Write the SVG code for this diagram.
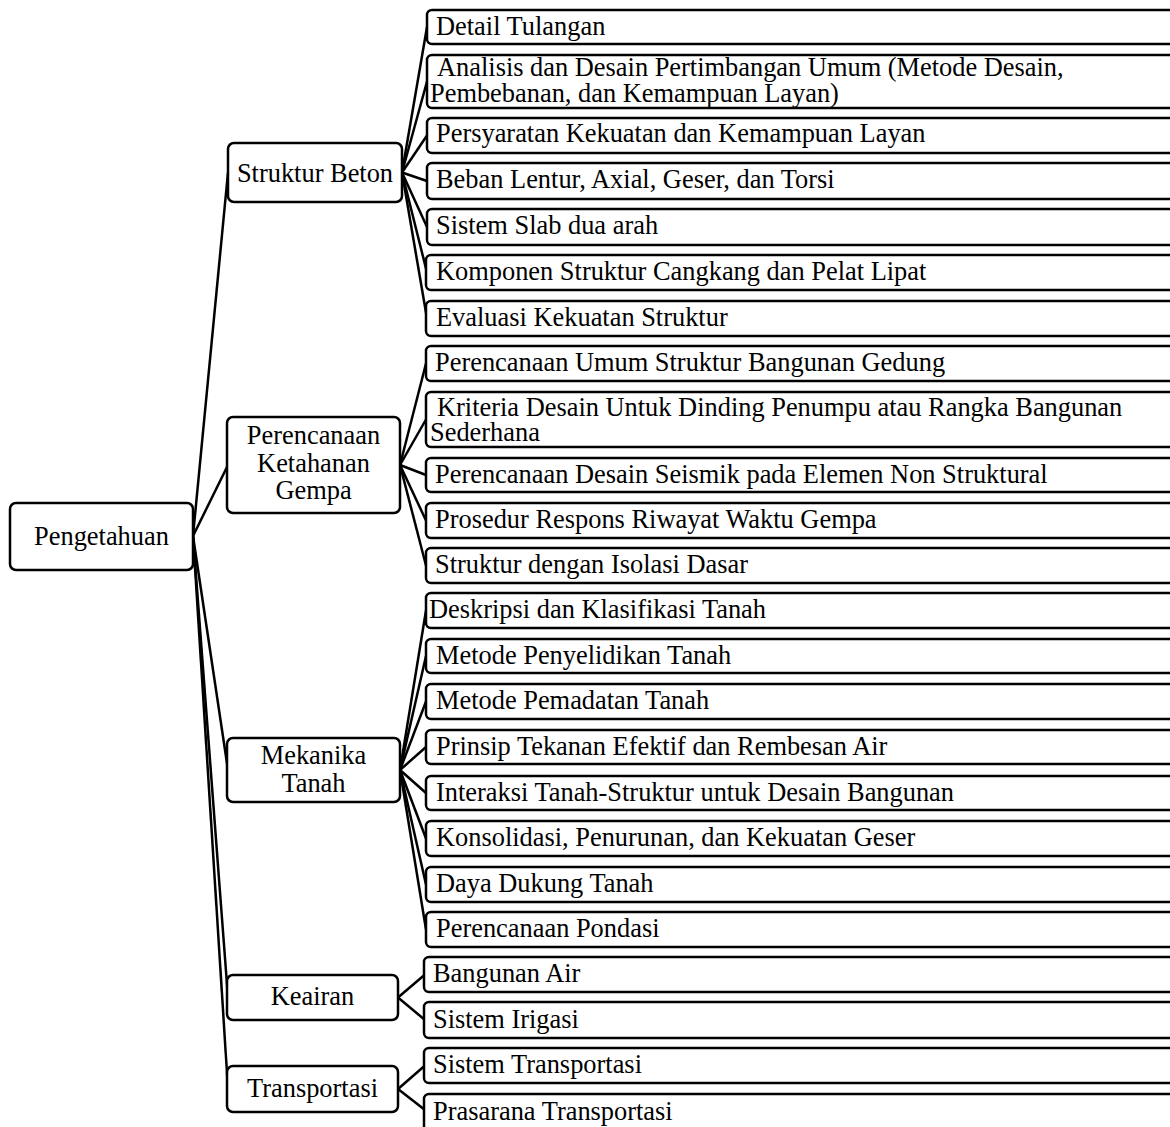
<svg xmlns="http://www.w3.org/2000/svg" width="1170" height="1127" viewBox="0 0 1170 1127">
<style>
.box{fill:#fff;stroke:#000;stroke-width:2.5}
.t{font-family:"Liberation Serif","Times New Roman",serif;font-size:26.4px;fill:#000}
.c{text-anchor:middle}
.ln{stroke:#000;stroke-width:2.5;fill:none}
</style>
<rect width="1170" height="1127" fill="#fff"/>
<g id="connectors" class="ln">
<line x1="193" y1="536" x2="228" y2="172.5"/>
<line x1="193" y1="536" x2="228" y2="465"/>
<line x1="193" y1="536" x2="228" y2="770"/>
<line x1="193" y1="536" x2="228" y2="997.5"/>
<line x1="193" y1="536" x2="228" y2="1089"/>
<line x1="402" y1="172.5" x2="427" y2="27"/>
<line x1="402" y1="172.5" x2="427" y2="81.5"/>
<line x1="402" y1="172.5" x2="427" y2="135.5"/>
<line x1="402" y1="172.5" x2="427" y2="181"/>
<line x1="402" y1="172.5" x2="427" y2="227"/>
<line x1="402" y1="172.5" x2="427" y2="272.5"/>
<line x1="402" y1="172.5" x2="427" y2="318.5"/>
<line x1="400" y1="465" x2="426" y2="363.5"/>
<line x1="400" y1="465" x2="426" y2="419.5"/>
<line x1="400" y1="465" x2="426" y2="475"/>
<line x1="400" y1="465" x2="426" y2="520.5"/>
<line x1="400" y1="465" x2="426" y2="565.5"/>
<line x1="400" y1="770" x2="426" y2="610.5"/>
<line x1="400" y1="770" x2="426" y2="656"/>
<line x1="400" y1="770" x2="426" y2="701.5"/>
<line x1="400" y1="770" x2="426" y2="747"/>
<line x1="400" y1="770" x2="426" y2="793"/>
<line x1="400" y1="770" x2="426" y2="838.5"/>
<line x1="400" y1="770" x2="426" y2="884.5"/>
<line x1="400" y1="770" x2="426" y2="929.5"/>
<line x1="398" y1="997.5" x2="425" y2="974.5"/>
<line x1="398" y1="997.5" x2="425" y2="1020"/>
<line x1="398" y1="1089" x2="425" y2="1065.5"/>
<line x1="398" y1="1089" x2="425" y2="1110"/>
</g>
<g id="n-root"><rect class="box" x="10" y="503" width="183" height="67" rx="6"/><text class="t c" x="101.5" y="545">Pengetahuan</text></g>
<g id="n-beton"><rect class="box" x="228" y="143" width="174" height="59" rx="6"/><text class="t c" x="315" y="181.5">Struktur Beton</text></g>
<g id="n-gempa"><rect class="box" x="227" y="417" width="173" height="96" rx="6"/><text class="t c" x="313.5" y="444">Perencanaan</text><text class="t c" x="313.5" y="471.5">Ketahanan</text><text class="t c" x="313.5" y="499">Gempa</text></g>
<g id="n-tanah"><rect class="box" x="227" y="738" width="173" height="64" rx="6"/><text class="t c" x="313.5" y="764">Mekanika</text><text class="t c" x="313.5" y="791.5">Tanah</text></g>
<g id="n-air"><rect class="box" x="227" y="975" width="171" height="45" rx="6"/><text class="t c" x="312.5" y="1005">Keairan</text></g>
<g id="n-trans"><rect class="box" x="227" y="1066" width="171" height="46" rx="6"/><text class="t c" x="312.5" y="1096.5">Transportasi</text></g>
<g id="l1"><rect class="box" x="427" y="10" width="760" height="34" rx="5"/><text class="t" x="436" y="35">Detail Tulangan</text></g>
<g id="l2"><rect class="box" x="427" y="55" width="760" height="53" rx="5"/><text class="t" x="437" y="76">Analisis dan Desain Pertimbangan Umum (Metode Desain,</text><text class="t" x="430" y="101.5">Pembebanan, dan Kemampuan Layan)</text></g>
<g id="l3"><rect class="box" x="427" y="118" width="760" height="35" rx="5"/><text class="t" x="436" y="142">Persyaratan Kekuatan dan Kemampuan Layan</text></g>
<g id="l4"><rect class="box" x="427" y="163" width="760" height="36" rx="5"/><text class="t" x="436" y="188">Beban Lentur, Axial, Geser, dan Torsi</text></g>
<g id="l5"><rect class="box" x="427" y="209" width="760" height="36" rx="5"/><text class="t" x="436" y="234">Sistem Slab dua arah</text></g>
<g id="l6"><rect class="box" x="426" y="255" width="760" height="35" rx="5"/><text class="t" x="436" y="280">Komponen Struktur Cangkang dan Pelat Lipat</text></g>
<g id="l7"><rect class="box" x="426" y="301" width="760" height="35" rx="5"/><text class="t" x="436" y="326">Evaluasi Kekuatan Struktur</text></g>
<g id="l8"><rect class="box" x="426" y="346" width="760" height="35" rx="5"/><text class="t" x="435" y="371">Perencanaan Umum Struktur Bangunan Gedung</text></g>
<g id="l9"><rect class="box" x="426" y="392" width="760" height="55" rx="5"/><text class="t" x="437" y="416">Kriteria Desain Untuk Dinding Penumpu atau Rangka Bangunan</text><text class="t" x="430" y="441">Sederhana</text></g>
<g id="l10"><rect class="box" x="426" y="458" width="760" height="34" rx="5"/><text class="t" x="435" y="483">Perencanaan Desain Seismik pada Elemen Non Struktural</text></g>
<g id="l11"><rect class="box" x="426" y="503" width="760" height="35" rx="5"/><text class="t" x="435" y="528">Prosedur Respons Riwayat Waktu Gempa</text></g>
<g id="l12"><rect class="box" x="426" y="548" width="760" height="35" rx="5"/><text class="t" x="435" y="573">Struktur dengan Isolasi Dasar</text></g>
<g id="l13"><rect class="box" x="426" y="593" width="760" height="35" rx="5"/><text class="t" x="429" y="618">Deskripsi dan Klasifikasi Tanah</text></g>
<g id="l14"><rect class="box" x="426" y="639" width="760" height="34" rx="5"/><text class="t" x="436" y="664">Metode Penyelidikan Tanah</text></g>
<g id="l15"><rect class="box" x="426" y="684" width="760" height="35" rx="5"/><text class="t" x="436" y="709">Metode Pemadatan Tanah</text></g>
<g id="l16"><rect class="box" x="426" y="730" width="760" height="34" rx="5"/><text class="t" x="436" y="755">Prinsip Tekanan Efektif dan Rembesan Air</text></g>
<g id="l17"><rect class="box" x="426" y="776" width="760" height="34" rx="5"/><text class="t" x="436" y="801">Interaksi Tanah-Struktur untuk Desain Bangunan</text></g>
<g id="l18"><rect class="box" x="426" y="821" width="760" height="35" rx="5"/><text class="t" x="436" y="846">Konsolidasi, Penurunan, dan Kekuatan Geser</text></g>
<g id="l19"><rect class="box" x="426" y="867" width="760" height="35" rx="5"/><text class="t" x="436" y="892">Daya Dukung Tanah</text></g>
<g id="l20"><rect class="box" x="426" y="912" width="760" height="35" rx="5"/><text class="t" x="436" y="937">Perencanaan Pondasi</text></g>
<g id="l21"><rect class="box" x="424" y="957" width="760" height="35" rx="5"/><text class="t" x="433" y="982">Bangunan Air</text></g>
<g id="l22"><rect class="box" x="424" y="1002" width="760" height="36" rx="5"/><text class="t" x="433" y="1028">Sistem Irigasi</text></g>
<g id="l23"><rect class="box" x="424" y="1048" width="760" height="35" rx="5"/><text class="t" x="433" y="1073">Sistem Transportasi</text></g>
<g id="l24"><rect class="box" x="424" y="1094" width="760" height="45" rx="5"/><text class="t" x="433" y="1120">Prasarana Transportasi</text></g>
</svg>
